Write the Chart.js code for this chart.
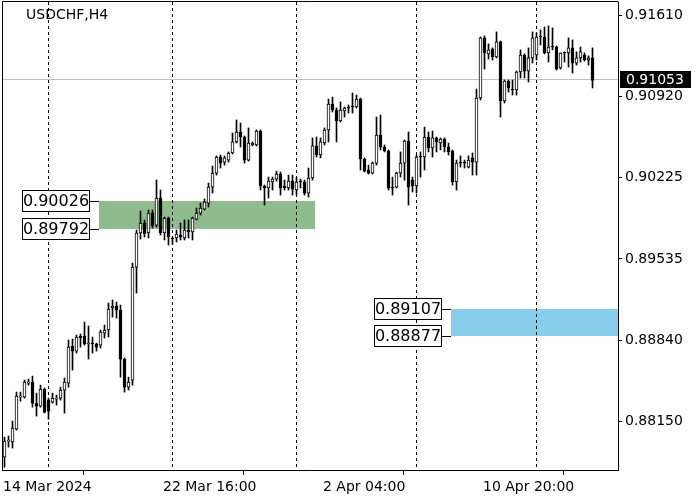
<!DOCTYPE html>
<html><head><meta charset="utf-8">
<script src="https://cdn.jsdelivr.net/npm/chart.js@4.4.1/dist/chart.umd.min.js"></script>
<style>html,body{margin:0;padding:0;background:#fff;}canvas{display:block;}</style>
</head><body>
<canvas id="c" width="700" height="500"></canvas>
<script>
const symbolTitle = 'USDCHF,H4';
const openP = [0.87849,0.87985,0.87977,0.88087,0.88359,0.88359,0.88478,0.88487,0.88308,0.88283,
0.88427,0.88334,0.88317,0.88342,0.88351,0.88419,0.88478,0.88794,0.88751,0.88879,
0.88879,0.88811,0.88811,0.88811,0.88802,0.88904,0.88930,0.89117,0.89134,0.89100,
0.88683,0.88444,0.88504,0.89465,0.89755,0.89840,0.89755,0.89925,0.89823,0.90053,
0.89755,0.89883,0.89704,0.89713,0.89738,0.89713,0.89781,0.89764,0.89874,0.89925,
0.89959,0.90010,0.90146,0.90265,0.90402,0.90359,0.90376,0.90436,0.90530,0.90615,
0.90572,0.90376,0.90504,0.90504,0.90623,0.90155,0.90138,0.90189,0.90214,0.90257,
0.90155,0.90138,0.90197,0.90121,0.90189,0.90189,0.90095,0.90223,0.90496,0.90419,
0.90521,0.90632,0.90853,0.90802,0.90708,0.90793,0.90819,0.90827,0.90827,0.90895,
0.90385,0.90291,0.90265,0.90350,0.90589,0.90487,0.90453,0.90146,0.90146,0.90265,
0.90350,0.90538,0.90206,0.90155,0.90402,0.90402,0.90572,0.90479,0.90564,0.90521,
0.90555,0.90487,0.90453,0.90189,0.90350,0.90350,0.90316,0.90394,0.90359,0.90904,
0.91415,0.91279,0.91321,0.91253,0.91381,0.90878,0.91048,0.90972,0.90972,0.91125,
0.91270,0.91133,0.91245,0.91270,0.91423,0.91423,0.91287,0.91338,0.91338,0.91159,
0.91287,0.91287,0.91330,0.91201,0.91245,0.91270,0.91227,0.91245];
const highP = [0.88019,0.88028,0.88155,0.88402,0.88402,0.88504,0.88512,0.88538,0.88393,0.88461,
0.88436,0.88351,0.88393,0.88376,0.88444,0.88521,0.88845,0.88853,0.88887,0.88896,
0.88998,0.88964,0.88870,0.88819,0.88930,0.88972,0.89159,0.89185,0.89168,0.89142,
0.88692,0.88529,0.89499,0.89781,0.89942,0.89866,0.89951,0.89951,0.90206,0.90121,
0.89891,0.89891,0.89721,0.89781,0.89840,0.89866,0.89866,0.89891,0.89968,0.90010,
0.90044,0.90180,0.90325,0.90411,0.90419,0.90411,0.90445,0.90606,0.90717,0.90691,
0.90581,0.90649,0.90530,0.90632,0.90632,0.90163,0.90231,0.90231,0.90282,0.90274,
0.90206,0.90248,0.90248,0.90231,0.90214,0.90206,0.90308,0.90564,0.90572,0.90564,
0.90649,0.90895,0.90912,0.90819,0.90870,0.90827,0.90844,0.90946,0.90929,0.90904,
0.90394,0.90333,0.90359,0.90742,0.90759,0.90504,0.90462,0.90231,0.90274,0.90445,
0.90547,0.90615,0.90231,0.90419,0.90445,0.90657,0.90615,0.90623,0.90572,0.90564,
0.90564,0.90521,0.90462,0.90376,0.90411,0.90376,0.90411,0.90436,0.90980,0.91423,
0.91432,0.91364,0.91330,0.91466,0.91389,0.91057,0.91057,0.91057,0.91133,0.91313,
0.91279,0.91330,0.91466,0.91457,0.91483,0.91508,0.91517,0.91500,0.91347,0.91287,
0.91296,0.91415,0.91398,0.91296,0.91338,0.91287,0.91262,0.91330];
const lowP = [0.87763,0.87934,0.87926,0.88079,0.88325,0.88351,0.88461,0.88274,0.88198,0.88274,
0.88223,0.88172,0.88308,0.88291,0.88334,0.88223,0.88444,0.88589,0.88734,0.88785,
0.88802,0.88683,0.88734,0.88751,0.88777,0.88862,0.88870,0.89040,0.89032,0.88529,
0.88402,0.88419,0.88461,0.89244,0.89704,0.89721,0.89713,0.89798,0.89806,0.89738,
0.89696,0.89653,0.89662,0.89679,0.89696,0.89696,0.89713,0.89696,0.89866,0.89908,
0.89951,0.89976,0.90095,0.90248,0.90308,0.90333,0.90359,0.90428,0.90521,0.90487,
0.90350,0.90367,0.90496,0.90496,0.90121,0.89993,0.90053,0.90121,0.90197,0.90078,
0.90121,0.90121,0.90078,0.90078,0.90138,0.90078,0.90061,0.90206,0.90402,0.90394,
0.90504,0.90530,0.90785,0.90530,0.90700,0.90742,0.90776,0.90776,0.90819,0.90291,
0.90274,0.90257,0.90257,0.90333,0.90462,0.90445,0.90121,0.90078,0.90138,0.90231,
0.90206,0.89993,0.90104,0.90095,0.90231,0.90291,0.90445,0.90402,0.90445,0.90462,
0.90445,0.90419,0.90163,0.90121,0.90316,0.90308,0.90308,0.90248,0.90248,0.90887,
0.91150,0.91236,0.91227,0.91245,0.90742,0.90861,0.90955,0.90929,0.90929,0.91074,
0.91074,0.91040,0.91201,0.91227,0.91355,0.91279,0.91210,0.91313,0.91142,0.91150,
0.91210,0.91167,0.91116,0.91184,0.91210,0.91218,0.91184,0.90989];
const closeP = [0.87985,0.87994,0.88096,0.88368,0.88368,0.88487,0.88487,0.88308,0.88283,0.88427,
0.88232,0.88240,0.88351,0.88351,0.88419,0.88487,0.88785,0.88751,0.88870,0.88862,
0.88811,0.88819,0.88811,0.88785,0.88913,0.88930,0.89108,0.89134,0.89100,0.88683,
0.88444,0.88487,0.89465,0.89755,0.89840,0.89747,0.89925,0.89815,0.90053,0.89755,
0.89883,0.89721,0.89704,0.89747,0.89721,0.89781,0.89764,0.89883,0.89925,0.89968,
0.90019,0.90146,0.90265,0.90402,0.90350,0.90394,0.90436,0.90530,0.90615,0.90572,
0.90376,0.90521,0.90521,0.90623,0.90155,0.90138,0.90197,0.90214,0.90257,0.90138,
0.90138,0.90197,0.90129,0.90189,0.90189,0.90095,0.90223,0.90496,0.90419,0.90530,
0.90632,0.90853,0.90802,0.90708,0.90802,0.90819,0.90819,0.90827,0.90895,0.90385,
0.90282,0.90265,0.90350,0.90589,0.90487,0.90453,0.90138,0.90138,0.90265,0.90350,
0.90538,0.90146,0.90155,0.90402,0.90402,0.90572,0.90479,0.90564,0.90530,0.90555,
0.90487,0.90445,0.90189,0.90350,0.90350,0.90350,0.90376,0.90359,0.90904,0.91415,
0.91287,0.91313,0.91253,0.91381,0.90878,0.91048,0.90989,0.90972,0.91125,0.91270,
0.91133,0.91245,0.91415,0.91423,0.91423,0.91287,0.91338,0.91338,0.91150,0.91287,
0.91287,0.91330,0.91201,0.91245,0.91296,0.91227,0.91245,0.91053];

const yTicks = [0.91610, 0.90920, 0.90225, 0.89535, 0.88840, 0.88150];
const xTickBars = [0, 40, 80, 120];
const xTickLabels = ['14 Mar 2024', '22 Mar 16:00', '2 Apr 04:00', '10 Apr 20:00'];
const gridBars = [11, 42, 73, 103, 133];
const lastPrice = 0.91053;
const greenZone = [0.89792, 0.90026];
const greenZoneBars = [24, 78];
const blueZone = [0.88877, 0.89107];
const blueZoneBars = [112, null];

const FONT = '"DejaVu Sans", sans-serif';
const idx = openP.map((_, i) => i);

const overlay = {
  id: 'overlay',
  beforeDatasetsDraw(chart) {
    const {ctx, chartArea: a, scales: {x, y}} = chart;
    ctx.save();
    const zoneRect = (z, bars, color) => {
      const x1 = Math.round(x.getPixelForValue(bars[0] - 0.375));
      const x2 = bars[1] == null ? a.right : Math.round(x.getPixelForValue(bars[1] - 0.375));
      const y1 = Math.round(y.getPixelForValue(z[1]));
      const y2 = Math.round(y.getPixelForValue(z[0]));
      ctx.fillStyle = color;
      ctx.fillRect(x1, y1, x2 - x1, y2 - y1);
    };
    zoneRect(greenZone, greenZoneBars, '#8fbc8f');
    zoneRect(blueZone, blueZoneBars, '#87ceeb');
    ctx.strokeStyle = '#000';
    ctx.lineWidth = 1;
    ctx.setLineDash([3, 3]);
    gridBars.forEach(b => {
      const px = Math.floor(x.getPixelForValue(b)) + 0.5;
      ctx.beginPath(); ctx.moveTo(px, a.top); ctx.lineTo(px, a.bottom); ctx.stroke();
    });
    ctx.setLineDash([]);
    const py = Math.round(y.getPixelForValue(lastPrice)) - 0.5;
    ctx.strokeStyle = '#c0c0c0';
    ctx.beginPath(); ctx.moveTo(a.left, py); ctx.lineTo(a.right, py); ctx.stroke();
    ctx.restore();
  },
  afterDraw(chart) {
    const {ctx, chartArea: a, scales: {x, y}} = chart;
    ctx.save();
    ctx.strokeStyle = '#000';
    ctx.lineWidth = 1;
    ctx.beginPath();
    ctx.moveTo(a.left + 0.5, a.bottom); ctx.lineTo(a.left + 0.5, a.top - 0.5);
    ctx.lineTo(a.right + 0.5, a.top - 0.5);
    ctx.stroke();
    ctx.fillStyle = '#000';
    ctx.font = '14px ' + FONT;
    ctx.textAlign = 'left';
    ctx.textBaseline = 'alphabetic';
    ctx.fillText(symbolTitle, 26, 19);
    const zoneLabels = (z, bars) => {
      const zx = Math.round(x.getPixelForValue(bars[0] - 0.375));
      z.forEach(p => {
        const yc = Math.round(y.getPixelForValue(p));
        const bx = zx - 77, bw = 68, bh = 22, by = yc - 11;
        ctx.fillStyle = '#fff';
        ctx.fillRect(bx, by, bw, bh);
        ctx.strokeStyle = '#000';
        ctx.strokeRect(bx + 0.5, by + 0.5, bw - 1, bh - 1);
        ctx.beginPath(); ctx.moveTo(bx + bw, yc + 0.5); ctx.lineTo(zx, yc + 0.5); ctx.stroke();
        ctx.fillStyle = '#000';
        ctx.font = '16px ' + FONT;
        ctx.textAlign = 'center';
        ctx.textBaseline = 'middle';
        ctx.fillText(p.toFixed(5), bx + bw / 2, yc + 1);
      });
    };
    zoneLabels(greenZone, greenZoneBars);
    zoneLabels(blueZone, blueZoneBars);
    const py = Math.round(y.getPixelForValue(lastPrice));
    ctx.fillStyle = '#000';
    ctx.fillRect(a.right + 2, py - 9, 71, 17);
    ctx.fillStyle = '#fff';
    ctx.font = '14px ' + FONT;
    ctx.textAlign = 'left';
    ctx.textBaseline = 'middle';
    ctx.fillText(lastPrice.toFixed(5), a.right + 8, py);
    ctx.restore();
  }
};

new Chart(document.getElementById('c'), {
  type: 'bar',
  data: {
    datasets: [
      {
        label: 'body',
        data: idx.map(i => ({x: i, y: [openP[i], closeP[i]]})),
        backgroundColor: idx.map(i => closeP[i] > openP[i] ? '#ffffff' : '#000000'),
        borderColor: '#000000',
        borderWidth: 1,
        borderSkipped: false,
        barThickness: 3,
        minBarLength: 1,
        grouped: false,
        order: 0
      },
      {
        label: 'wick',
        data: idx.map(i => ({x: i, y: [lowP[i], highP[i]]})),
        backgroundColor: '#000000',
        borderWidth: 0,
        barThickness: 1,
        grouped: false,
        order: 1
      }
    ]
  },
  options: {
    responsive: false,
    animation: false,
    devicePixelRatio: 1,
    layout: {padding: {left: 2, top: 2, right: 0, bottom: 0}},
    plugins: {legend: {display: false}, tooltip: {enabled: false}, title: {display: false}},
    scales: {
      x: {
        type: 'linear',
        min: -0.625,
        max: 153.375,
        offset: false,
        grid: {drawOnChartArea: false, drawTicks: true, tickLength: 5, color: '#000'},
        border: {display: true, color: '#000', width: 1},
        afterFit: s => { s.height = 30; s.paddingLeft = 0; s.paddingRight = 0; },
        afterBuildTicks: s => { s.ticks = xTickBars.map(b => ({value: b - 0.375})); },
        ticks: {
          align: 'start',
          autoSkip: false,
          maxRotation: 0,
          padding: 4,
          color: '#000',
          font: {family: FONT, size: 14},
          callback: (v, i) => xTickLabels[i]
        }
      },
      y: {
        type: 'linear',
        position: 'right',
        min: 0.877391,
        max: 0.917206,
        grid: {drawOnChartArea: false, drawTicks: true, tickLength: 4, color: '#000'},
        border: {display: true, color: '#000', width: 1},
        afterFit: s => { s.width = 82; s.paddingTop = 0; s.paddingBottom = 0; },
        afterBuildTicks: s => { s.ticks = yTicks.map(v => ({value: v})); },
        ticks: {
          padding: 3,
          color: '#000',
          font: {family: FONT, size: 14},
          callback: v => Number(v).toFixed(5)
        }
      }
    }
  },
  plugins: [overlay]
});
</script>
</body></html>
